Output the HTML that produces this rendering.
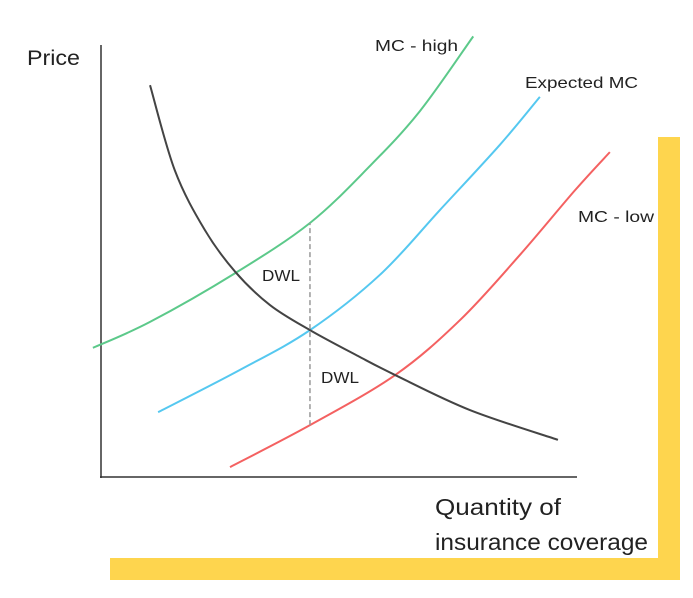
<!DOCTYPE html>
<html><head><meta charset="utf-8"><style>
body{margin:0;background:#fff;width:693px;height:598px;overflow:hidden;font-family:"Liberation Sans",sans-serif}
svg{display:block}
</style></head><body>
<svg id="chart" width="693" height="598">
<rect x="658" y="137" width="22" height="443" fill="#fed54e"/>
<rect x="110" y="558" width="570" height="22" fill="#fed54e"/>
<line x1="101" y1="45" x2="101" y2="478" stroke="#333" stroke-width="1.5"/>
<line x1="100" y1="477" x2="577" y2="477" stroke="#333" stroke-width="1.5"/>
<text x="27" y="65" font-size="21" textLength="53" lengthAdjust="spacingAndGlyphs" fill="#222">Price</text>
<text x="435" y="515" font-size="23" textLength="126" lengthAdjust="spacingAndGlyphs" fill="#222">Quantity of</text>
<text x="435" y="550" font-size="23" textLength="213" lengthAdjust="spacingAndGlyphs" fill="#222">insurance coverage</text>
<text x="375" y="51" font-size="16" textLength="83" lengthAdjust="spacingAndGlyphs" fill="#222">MC - high</text>
<text x="525" y="88" font-size="16" textLength="113" lengthAdjust="spacingAndGlyphs" fill="#222">Expected MC</text>
<text x="578" y="222" font-size="16" textLength="76" lengthAdjust="spacingAndGlyphs" fill="#222">MC - low</text>
<text x="262" y="281" font-size="16" textLength="38" lengthAdjust="spacingAndGlyphs" fill="#222">DWL</text>
<text x="321" y="383" font-size="16" textLength="38" lengthAdjust="spacingAndGlyphs" fill="#222">DWL</text>
<g id="marks"></g>
</svg>
<script>
const greenX=[-0.17,1.03,2.82,4.39,5.65,6.70,7.82];
const greenY=[2.99,3.59,4.72,5.88,7.2,8.47,10.2];
const blueX=[1.2,2.92,4.39,5.86,7.12,8.38,9.22];
const blueY=[1.5,2.48,3.4,4.68,6.18,7.69,8.8];
const redX=[2.71,4.39,6.18,7.54,8.8,9.96,10.69];
const redY=[0.23,1.2,2.36,3.63,5.14,6.64,7.52];
const demandX=[1.03,1.55,2.18,2.82,3.55,4.39,5.4,6.18,7.75,9.6];
const demandY=[9.07,7.1,5.72,4.75,3.98,3.4,2.8,2.36,1.55,0.86];
const dwlX=[4.39];
const dwlY=[1.2,5.88];
function sx(v){return 101+v*47.6;}
function sy(v){return 477-v*43.2;}
function pathFor(xs,ys){
  const p=xs.map((x,i)=>[sx(x),sy(ys[i])]);
  let d='M'+p[0][0]+','+p[0][1];
  for(let i=0;i<p.length-1;i++){
    const p0=p[i-1]||p[i],p1=p[i],p2=p[i+1],p3=p[i+2]||p2;
    const c1=[p1[0]+(p2[0]-p0[0])/6,p1[1]+(p2[1]-p0[1])/6];
    const c2=[p2[0]-(p3[0]-p1[0])/6,p2[1]-(p3[1]-p1[1])/6];
    d+=' C'+c1+' '+c2+' '+p2;
  }
  return d;
}
const g=document.getElementById('marks');
const NS='http://www.w3.org/2000/svg';
function addCurve(xs,ys,color,name){
  const el=document.createElementNS(NS,'path');
  el.setAttribute('d',pathFor(xs,ys));
  el.setAttribute('fill','none');
  el.setAttribute('stroke',color);
  el.setAttribute('stroke-width','2');
  
  
  g.appendChild(el);
}
addCurve(greenX,greenY,'#5cc98a','mc-high-curve');
addCurve(blueX,blueY,'#55c8f0','expected-mc-curve');
addCurve(redX,redY,'#f46161','mc-low-curve');
addCurve(demandX,demandY,'#444','demand-curve');
const dl=document.createElementNS(NS,'line');
dl.setAttribute('x1',sx(dwlX[0]));dl.setAttribute('x2',sx(dwlX[0]));
dl.setAttribute('y1',sy(dwlY[0]));dl.setAttribute('y2',sy(dwlY[1]));
dl.setAttribute('stroke','#999');dl.setAttribute('stroke-width','1.5');dl.setAttribute('stroke-dasharray','5,3');


g.appendChild(dl);
</script>
</body></html>
